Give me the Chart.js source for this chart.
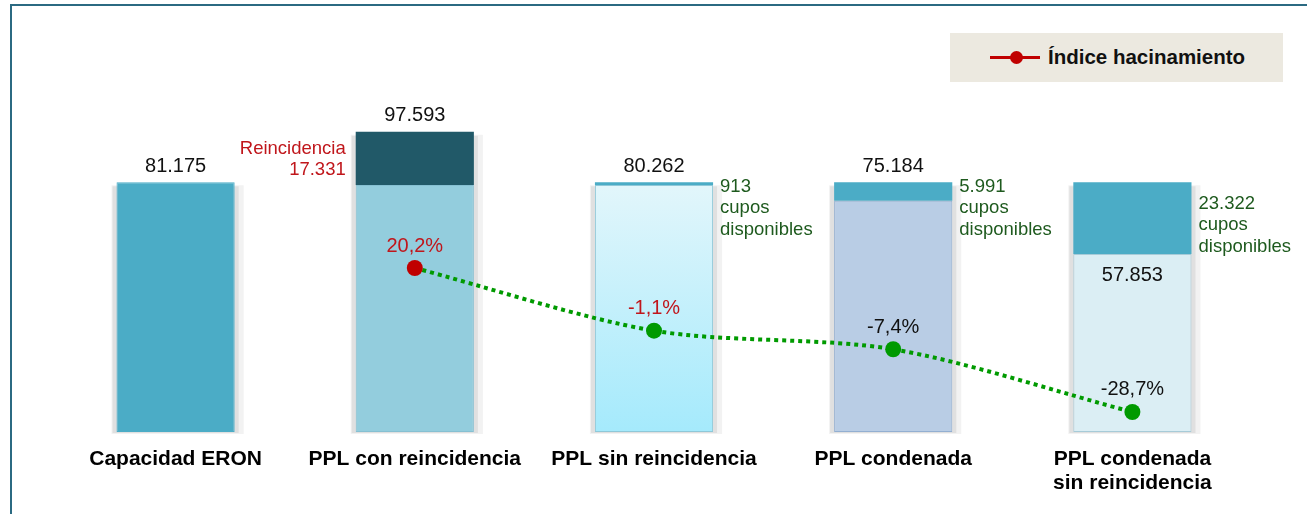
<!DOCTYPE html>
<html>
<head>
<meta charset="utf-8">
<script src="https://cdn.jsdelivr.net/npm/chart.js@4"></script>
<style>
  html, body { margin: 0; padding: 0; background: #fff; overflow: hidden; }
  #wrap { position: relative; width: 1307px; height: 514px; }
  #frame { position: absolute; left: 10px; top: 4px; width: 1400px; height: 600px;
           border-top: 2px solid #2b6a82; border-left: 2px solid #2b6a82; box-sizing: border-box; }
  #legend { position: absolute; left: 950px; top: 33px; width: 333px; height: 49px; background: #ece9e0;
            font-family: "Liberation Sans", Arial, sans-serif; font-weight: bold; font-size: 20.5px; color: #111; }
  #legend .ln { position: absolute; left: 40px; top: 23px; width: 50px; height: 3px; background: #c00000; }
  #legend .dot { position: absolute; left: 60px; top: 18px; width: 13px; height: 13px; border-radius: 50%; background: #c00000; }
  #legend .txt { position: absolute; left: 98px; top: 12px; }
  canvas { position: absolute; left: 0; top: 0; }
</style>
</head>
<body>
<div id="wrap">
  <div id="frame"></div>
  <canvas id="chart" width="1307" height="514"></canvas>
  <div id="legend"><div class="ln"></div><div class="dot"></div><div class="txt">Índice hacinamiento</div></div>
</div>
<script>
// Data
const categories = [['Capacidad ERON'], ['PPL con reincidencia'], ['PPL sin reincidencia'], ['PPL condenada'], ['PPL condenada', 'sin reincidencia']];
const baseValues = [81175, 80262, 80262, 75184, 57853];
const topValues = [0, 17331, 913, 5991, 23322];
const indexValues = [null, 20.2, -1.1, -7.4, -28.7];
const valueLabels = ['81.175', '97.593', '80.262', '75.184', '57.853'];
const indexLabels = [null, '20,2%', '-1,1%', '-7,4%', '-28,7%'];
const sideNotes = [null, ['Reincidencia', '17.331'], ['913', 'cupos', 'disponibles'], ['5.991', 'cupos', 'disponibles'], ['23.322', 'cupos', 'disponibles']];

// Colors
const baseColors = ['#4bacc6', '#93cddd', null, '#b9cde5', '#dbeef4'];
const baseBorders = ['#4bacc6', '#86c0d2', '#8fc8d8', '#93afd1', '#a7cbd8'];
const topColors = ['#4bacc6', '#215968', '#4bacc6', '#4bacc6', '#4bacc6'];
const indexLabelColors = [null, '#c0161b', '#c0161b', '#111', '#111'];
const pointColors = ['#c00000', '#c00000', '#009a00', '#009a00', '#009a00'];
const FONT = '"Liberation Sans", Arial, sans-serif';

// Soft grey shadow behind each stacked bar
const shadowPlugin = {
  id: 'shadow',
  beforeDatasetsDraw(chart) {
    const ctx = chart.ctx;
    const baseMeta = chart.getDatasetMeta(0);
    const topMeta = chart.getDatasetMeta(1);
    ctx.save();
    baseMeta.data.forEach((bar, i) => {
      const w = bar.width;
      const left = bar.x - w / 2;
      const top = topValues[i] > 0 ? topMeta.data[i].y : bar.y;
      const bottom = bar.base;
      ctx.fillStyle = '#f2f2f2';
      ctx.fillRect(left - 5, top + 3, w + 14, bottom - top - 1);
      ctx.fillStyle = '#e0e0e0';
      ctx.fillRect(left - 4, top + 4, w + 8, bottom - top - 3);
    });
    ctx.restore();
  }
};

// Value labels, side notes and index labels
const labelPlugin = {
  id: 'labels',
  afterDatasetsDraw(chart) {
    const ctx = chart.ctx;
    const baseMeta = chart.getDatasetMeta(0);
    const topMeta = chart.getDatasetMeta(1);
    const lineMeta = chart.getDatasetMeta(2);
    ctx.save();
    ctx.textBaseline = 'middle';
    baseMeta.data.forEach((bar, i) => {
      const w = bar.width;
      const capBar = topMeta.data[i];
      const stackTop = topValues[i] > 0 ? capBar.y : bar.y;
      const capH = bar.y - stackTop;

      // main value
      ctx.font = '20px ' + FONT;
      ctx.fillStyle = '#111';
      ctx.textAlign = 'center';
      if (capH > 60) {
        ctx.fillText(valueLabels[i], bar.x, bar.y + 21);
      } else {
        ctx.fillText(valueLabels[i], bar.x, stackTop - 16);
      }

      // side notes
      const note = sideNotes[i];
      if (note) {
        ctx.font = '18.5px ' + FONT;
        const lh = 21.5;
        if (i === 1) {
          ctx.fillStyle = '#c0161b';
          ctx.textAlign = 'right';
          const cy = (stackTop + bar.y) / 2 + 1;
          note.forEach((t, k) => ctx.fillText(t, bar.x - w / 2 - 10, cy + (k - (note.length - 1) / 2) * lh));
        } else {
          ctx.fillStyle = '#1e5a1e';
          ctx.textAlign = 'left';
          const cy = Math.max(stackTop + 26, stackTop + capH / 2 + 7);
          note.forEach((t, k) => ctx.fillText(t, bar.x + w / 2 + 7, cy + (k - (note.length - 1) / 2) * lh));
        }
      }
    });

    // index labels above line points
    ctx.font = '20px ' + FONT;
    ctx.textAlign = 'center';
    lineMeta.data.forEach((pt, i) => {
      if (indexLabels[i] == null) return;
      ctx.fillStyle = indexLabelColors[i];
      ctx.fillText(indexLabels[i], pt.x, pt.y - 22);
    });
    ctx.restore();
  }
};

function baseFill(context) {
  const i = context.dataIndex;
  if (baseColors[i]) return baseColors[i];
  const chart = context.chart;
  if (!chart.chartArea) return '#c4eefa';
  const y = chart.scales.y;
  const g = chart.ctx.createLinearGradient(0, y.getPixelForValue(baseValues[i]), 0, y.getPixelForValue(0));
  g.addColorStop(0, '#e2f6fb');
  g.addColorStop(1, '#a5eafc');
  return g;
}

new Chart(document.getElementById('chart'), {
  data: {
    labels: categories,
    datasets: [
      {
        type: 'bar',
        label: 'Base',
        data: baseValues,
        backgroundColor: baseFill,
        borderColor: baseBorders,
        borderWidth: 1,
        borderSkipped: false,
        stack: 's',
        order: 2
      },
      {
        type: 'bar',
        label: 'Cupos',
        data: topValues,
        backgroundColor: topColors,
        borderWidth: 0,
        stack: 's',
        order: 2
      },
      {
        type: 'line',
        label: 'Índice hacinamiento',
        data: indexValues,
        yAxisID: 'y2',
        borderColor: '#009a00',
        borderWidth: 4,
        borderDash: [4, 4],
        borderCapStyle: 'butt',
        tension: 0.3,
        pointRadius: 8,
        pointBorderWidth: 0,
        pointBackgroundColor: pointColors,
        order: 0
      }
    ]
  },
  options: {
    responsive: false,
    animation: false,
    events: [],
    layout: { padding: { left: 56, right: 55, top: 109, bottom: 8 } },
    datasets: { bar: { barPercentage: 0.494, categoryPercentage: 1 } },
    plugins: { legend: { display: false }, tooltip: { enabled: false } },
    scales: {
      x: {
        stacked: true,
        grid: { display: false },
        border: { display: false },
        afterFit: s => { s.height = 74; },
        ticks: {
          padding: 7,
          color: '#000',
          font: { family: FONT, size: 21, weight: 'bold', lineHeight: 1.15 }
        }
      },
      y: {
        stacked: true,
        display: false,
        min: 0,
        max: 105000
      },
      y2: {
        display: false,
        min: -35.5,
        max: 74.2
      }
    }
  },
  plugins: [shadowPlugin, labelPlugin]
});
</script>
</body>
</html>
